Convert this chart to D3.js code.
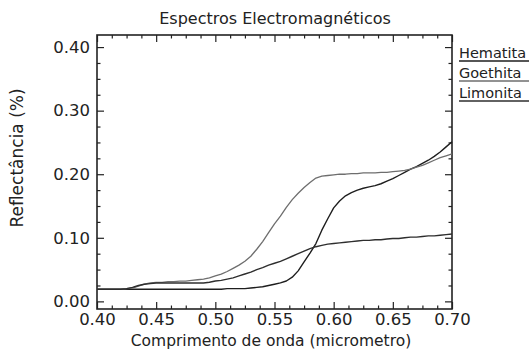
<!DOCTYPE html>
<html>
<head>
<meta charset="utf-8">
<script src="https://cdn.jsdelivr.net/npm/d3@7"></script>
<style>
  html, body { margin: 0; padding: 0; background: #fff; }
  svg { display: block; }
  text { font-family: "DejaVu Sans", "Liberation Sans", sans-serif; fill: #222; }
</style>
</head>
<body>
<svg id="chart" width="531" height="351"></svg>
<script>
// ---- data ----
const wavelength = [
  0.400, 0.405, 0.410, 0.415, 0.420, 0.425, 0.430, 0.435, 0.440, 0.445,
  0.450, 0.455, 0.460, 0.465, 0.470, 0.475, 0.480, 0.485, 0.490, 0.495,
  0.500, 0.505, 0.510, 0.515, 0.520, 0.525, 0.530, 0.535, 0.540, 0.545,
  0.550, 0.555, 0.560, 0.565, 0.570, 0.575, 0.580, 0.585, 0.590, 0.595,
  0.600, 0.605, 0.610, 0.615, 0.620, 0.625, 0.630, 0.635, 0.640, 0.645,
  0.650, 0.655, 0.660, 0.665, 0.670, 0.675, 0.680, 0.685, 0.690, 0.695,
  0.700
];
const hematita = [
  0.019, 0.019, 0.019, 0.019, 0.019, 0.019, 0.019, 0.019, 0.019, 0.019,
  0.019, 0.019, 0.019, 0.019, 0.019, 0.019, 0.019, 0.019, 0.019, 0.019,
  0.019, 0.019, 0.020, 0.020, 0.020, 0.020, 0.021, 0.022, 0.023, 0.025,
  0.027, 0.029, 0.032, 0.038, 0.048, 0.062, 0.076, 0.091, 0.112, 0.130,
  0.147, 0.158, 0.166, 0.171, 0.175, 0.178, 0.180, 0.182, 0.185, 0.189,
  0.193, 0.198, 0.203, 0.208, 0.212, 0.217, 0.222, 0.228, 0.235, 0.243,
  0.251
];
const goethita = [
  0.019, 0.019, 0.019, 0.019, 0.019, 0.020, 0.021, 0.024, 0.027, 0.029,
  0.030, 0.030, 0.031, 0.031, 0.032, 0.032, 0.033, 0.034, 0.035, 0.037,
  0.040, 0.043, 0.047, 0.052, 0.057, 0.063, 0.071, 0.082, 0.094, 0.108,
  0.122, 0.134, 0.148, 0.160, 0.170, 0.179, 0.187, 0.194, 0.197, 0.198,
  0.199, 0.200, 0.200, 0.201, 0.201, 0.202, 0.202, 0.202, 0.203, 0.203,
  0.204, 0.205, 0.206, 0.208, 0.211, 0.214, 0.218, 0.222, 0.226, 0.229,
  0.232
];
const limonita = [
  0.019, 0.019, 0.019, 0.019, 0.019, 0.020, 0.022, 0.025, 0.027, 0.028,
  0.029, 0.029, 0.029, 0.029, 0.029, 0.029, 0.029, 0.029, 0.029, 0.030,
  0.032, 0.033, 0.035, 0.037, 0.040, 0.043, 0.046, 0.050, 0.053, 0.057,
  0.060, 0.063, 0.067, 0.071, 0.075, 0.079, 0.083, 0.086, 0.088, 0.090,
  0.091, 0.092, 0.093, 0.094, 0.095, 0.096, 0.096, 0.097, 0.097, 0.098,
  0.099, 0.099, 0.100, 0.101, 0.101, 0.102, 0.103, 0.103, 0.104, 0.105,
  0.106
];
const seriesNames = ["Hematita", "Goethita", "Limonita"];
const xTicks = [0.40, 0.45, 0.50, 0.55, 0.60, 0.65, 0.70];
const yTicks = [0.00, 0.10, 0.20, 0.30, 0.40];
const titleText = "Espectros Electromagnéticos";
const xLabel = "Comprimento de onda (micrometro)";
const yLabel = "Reflectância (%)";

// ---- layout ----
const svg = d3.select("#chart");
const L = 97, R = 452, T = 35, B = 309;
const x = d3.scaleLinear().domain([0.40, 0.70]).range([L, R]);
const y = d3.scaleLinear().domain([-0.012, 0.419]).range([B, T]);
const ink = "#222";
const colors = { Hematita: "#1e1e1e", Goethita: "#6e6e6e", Limonita: "#2e2e2e" };
const widths = { Hematita: 1.4, Goethita: 1.3, Limonita: 1.4 };
const dataBy = { Hematita: hematita, Goethita: goethita, Limonita: limonita };

// minor ticks
const xMinor = d3.range(0, 25).map(i => 0.40 + i * 0.0125).filter(v => !xTicks.some(t => Math.abs(t - v) < 1e-6));
const yMinor = d3.range(0, 17).map(i => i * 0.025).filter(v => v <= 0.419 && !yTicks.some(t => Math.abs(t - v) < 1e-6));

const g = svg.append("g");

function styleTicks(sel) {
  sel.select(".domain").remove();
  sel.selectAll("line").attr("stroke", ink).attr("stroke-width", 1.2);
}

// bottom axis (labels + inward ticks)
const gxb = g.append("g").attr("transform", `translate(0,${B})`)
  .call(d3.axisBottom(x).tickValues(xTicks).tickFormat(d3.format(".2f")).tickSizeInner(-7).tickSizeOuter(0).tickPadding(4));
styleTicks(gxb);
gxb.selectAll("text").attr("font-size", 16.5).attr("fill", ink);
styleTicks(g.append("g").attr("transform", `translate(0,${B})`)
  .call(d3.axisBottom(x).tickValues(xMinor).tickFormat("").tickSizeInner(-3.5).tickSizeOuter(0)));

// top axis (ticks only)
styleTicks(g.append("g").attr("transform", `translate(0,${T})`)
  .call(d3.axisTop(x).tickValues(xTicks).tickFormat("").tickSizeInner(-7).tickSizeOuter(0)));
styleTicks(g.append("g").attr("transform", `translate(0,${T})`)
  .call(d3.axisTop(x).tickValues(xMinor).tickFormat("").tickSizeInner(-3.5).tickSizeOuter(0)));

// left axis
const gyl = g.append("g").attr("transform", `translate(${L},0)`)
  .call(d3.axisLeft(y).tickValues(yTicks).tickFormat(d3.format(".2f")).tickSizeInner(-7).tickSizeOuter(0).tickPadding(7));
styleTicks(gyl);
gyl.selectAll("text").attr("font-size", 16.5).attr("fill", ink);
styleTicks(g.append("g").attr("transform", `translate(${L},0)`)
  .call(d3.axisLeft(y).tickValues(yMinor).tickFormat("").tickSizeInner(-3.5).tickSizeOuter(0)));

// right axis (ticks only)
styleTicks(g.append("g").attr("transform", `translate(${R},0)`)
  .call(d3.axisRight(y).tickValues(yTicks).tickFormat("").tickSizeInner(-7).tickSizeOuter(0)));
styleTicks(g.append("g").attr("transform", `translate(${R},0)`)
  .call(d3.axisRight(y).tickValues(yMinor).tickFormat("").tickSizeInner(-3.5).tickSizeOuter(0)));

// frame
g.append("rect").attr("x", L).attr("y", T).attr("width", R - L).attr("height", B - T)
  .attr("fill", "none").attr("stroke", ink).attr("stroke-width", 1.6);

// lines
const line = d3.line().x((d, i) => x(wavelength[i])).y(d => y(d));
seriesNames.forEach(name => {
  g.append("path").datum(dataBy[name])
    .attr("d", line)
    .attr("fill", "none")
    .attr("stroke", colors[name])
    .attr("stroke-width", widths[name])
    .attr("stroke-linejoin", "round");
});

// legend
seriesNames.forEach((name, i) => {
  const by = 58 + i * 20;
  g.append("text").attr("x", 459).attr("y", by).attr("font-size", 14.5).attr("fill", ink).text(name);
  g.append("line").attr("x1", 459).attr("x2", 529).attr("y1", by + 3).attr("y2", by + 3)
    .attr("stroke", colors[name]).attr("stroke-width", 1.3);
});

// titles
svg.append("text").attr("x", 275).attr("y", 24).attr("text-anchor", "middle").attr("font-size", 16).text(titleText);
svg.append("text").attr("x", 271).attr("y", 346).attr("text-anchor", "middle").attr("font-size", 15.5).text(xLabel);
svg.append("text").attr("transform", "translate(23,158) rotate(-90)").attr("text-anchor", "middle").attr("font-size", 17).text(yLabel);
</script>
</body>
</html>
